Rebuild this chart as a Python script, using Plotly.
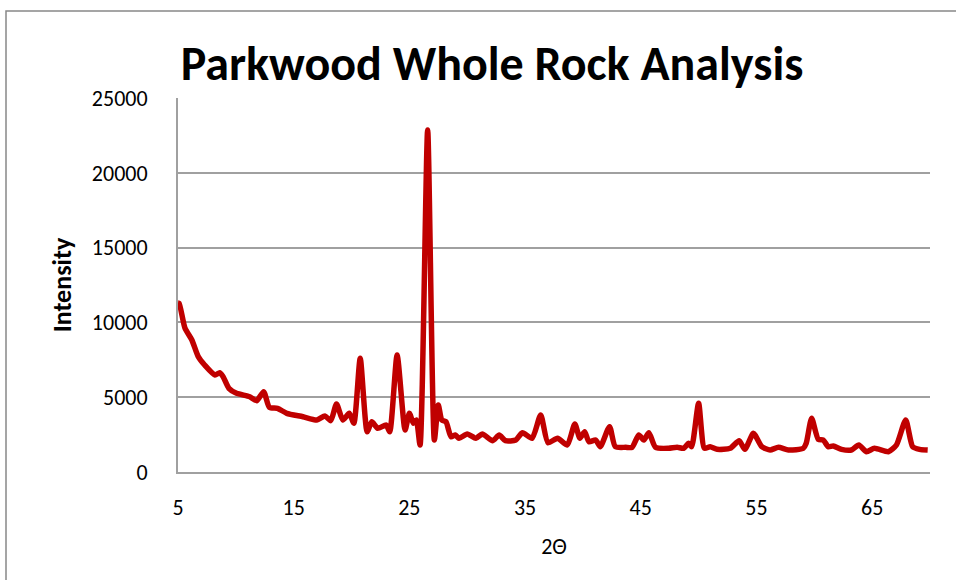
import plotly.graph_objects as go

# XRD scan: 2-theta positions and measured intensity
two_theta = [5.0, 5.1, 5.6, 6.2, 6.75, 7.3, 8.2, 8.6, 8.9, 9.4, 10.06, 11.2, 11.8, 12.4,
             12.9, 13.6, 14.4, 15.8, 17.0, 17.7, 18.2, 18.7, 19.25, 19.8, 20.2, 20.75,
             21.35, 21.75, 22.27, 22.99, 23.3, 23.94, 24.63, 25.0, 25.35, 25.6, 25.92,
             26.58, 27.16, 27.5, 27.8, 28.16, 28.6, 28.97, 29.3, 30.0, 30.75, 31.3,
             32.2, 32.76, 33.3, 34.2, 34.77, 35.6, 36.35, 36.98, 37.8, 38.65, 39.3,
             39.74, 40.15, 40.52, 41.1, 41.5, 42.3, 42.8, 43.7, 44.25, 44.83, 45.26,
             45.7, 46.27, 47.4, 48.14, 48.7, 49.14, 49.4, 50.0, 50.5, 51.0, 51.6,
             52.73, 53.5, 54.0, 54.74, 55.46, 56.18, 56.9, 57.76, 59.05, 59.3, 59.77,
             60.34, 60.78, 61.2, 61.64, 62.35, 63.2, 63.85, 64.5, 65.2, 66.4, 67.1,
             67.9, 68.5, 69.1, 69.8]
intensity = [11300, 11277, 9625, 8823, 7707, 7152, 6483, 6640, 6370, 5594, 5260, 5033,
             4766, 5370, 4324, 4258, 3924, 3696, 3476, 3743, 3430, 4545, 3476, 3924,
             3255, 7600, 2694, 3362, 2920, 3141, 2694, 7820, 2807, 3924, 3255, 3476,
             1805, 22860, 2139, 4478, 3476, 3362, 2360, 2473, 2252, 2540, 2252, 2540,
             2092, 2473, 2092, 2139, 2627, 2252, 3810, 1960, 2252, 1805, 3208, 2252,
             2694, 2025, 2139, 1690, 3030, 1690, 1650, 1650, 2473, 2139, 2627, 1650,
             1584, 1650, 1584, 1918, 1690, 4590, 1584, 1690, 1517, 1584, 2092, 1517,
             2587, 1690, 1470, 1650, 1470, 1584, 1918, 3589, 2185, 2139, 1690, 1738,
             1517, 1470, 1805, 1357, 1584, 1357, 1805, 3476, 1690, 1517, 1470]

x_ticks = [5, 15, 25, 35, 45, 55, 65]
y_ticks = [0, 5000, 10000, 15000, 20000, 25000]
y_tick_text = [str(v) for v in y_ticks]

FONT = "Carlito, 'Liberation Sans Narrow', 'Open Sans', sans-serif"

fig = go.Figure()
fig.add_trace(go.Scatter(
    x=two_theta, y=intensity, mode="lines",
    line=dict(color="#C00000", width=5.5, shape="spline", smoothing=0.6),
    showlegend=False,
))

W, H = 956, 580
L, R, T, B = 178, 26, 98, 108

fig.update_layout(
    width=W, height=H,
    margin=dict(l=L, r=R, t=T, b=B),
    paper_bgcolor="white", plot_bgcolor="white",
    font=dict(family=FONT, color="black", size=22),
    title=dict(text="<b>Parkwood Whole Rock Analysis</b>",
               font=dict(size=48, color="black"),
               x=492 / W, xanchor="center", y=1 - 63 / H, yanchor="middle"),
    xaxis=dict(range=[5, 70], tickvals=x_ticks, showgrid=False,
               showline=True, linecolor="#a0a0a0", linewidth=2,
               ticks="", ticklabelstandoff=15, zeroline=False,
               title=dict(text="2Θ", font=dict(size=22), standoff=18)),
    yaxis=dict(range=[0, 25000], tickvals=y_ticks, ticktext=y_tick_text,
               showgrid=True, gridcolor="#a0a0a0", gridwidth=2,
               showline=True, linecolor="#a0a0a0", linewidth=2,
               ticks="", ticklabelstandoff=24, zeroline=False,
               title=dict(text="<b>Intensity</b>", font=dict(size=26), standoff=13)),
    shapes=[dict(type="rect", xref="paper", yref="paper",
                 x0=-(L - 6) / (W - L - R), x1=1 + (R + 10) / (W - L - R),
                 y0=-(B + 10) / (H - T - B), y1=1 + (T - 11) / (H - T - B),
                 line=dict(color="#888888", width=1.5), layer="below")],
)

fig.write_html("out.html")
